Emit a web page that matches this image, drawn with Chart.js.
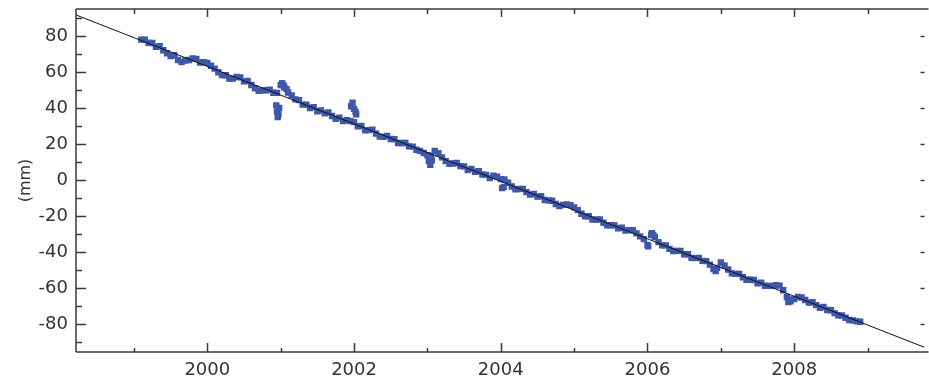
<!DOCTYPE html>
<html>
<head>
<meta charset="utf-8">
<script src="https://cdn.jsdelivr.net/npm/chart.js@4.4.1/dist/chart.umd.min.js"></script>
<style>
  html, body { margin: 0; padding: 0; background: #fff; }
  canvas { display: block; }
</style>
</head>
<body>
<canvas id="gpsChart" width="929" height="382"></canvas>
<script>
// ---- 1. DATA ---------------------------------------------------------
// epochs in decimal years, displacement in mm (values approximate)
const epochs = [
  1999.10, 1999.15, 1999.20, 1999.25, 1999.30, 1999.35, 1999.40, 1999.45, 1999.50,
  1999.55, 1999.60, 1999.65, 1999.70, 1999.75, 1999.80, 1999.85, 1999.90, 1999.95,
  2000.00, 2000.05, 2000.10, 2000.15, 2000.20, 2000.25, 2000.30, 2000.35, 2000.40, 2000.45,
  2000.50, 2000.55, 2000.60, 2000.65, 2000.70, 2000.75, 2000.80, 2000.85, 2000.90, 2000.95,
  2001.00, 2001.05, 2001.10, 2001.15, 2001.20, 2001.25, 2001.30, 2001.35, 2001.40, 2001.45,
  2001.50, 2001.55, 2001.60, 2001.65, 2001.70, 2001.75, 2001.80, 2001.85, 2001.90, 2001.95,
  2002.00, 2002.05, 2002.10, 2002.15, 2002.20, 2002.25, 2002.30, 2002.35, 2002.40, 2002.45,
  2002.50, 2002.55, 2002.60, 2002.65, 2002.70, 2002.75, 2002.80, 2002.85, 2002.90, 2002.95,
  2003.00, 2003.05, 2003.10, 2003.15, 2003.20, 2003.25, 2003.30, 2003.35, 2003.40, 2003.45,
  2003.50, 2003.55, 2003.60, 2003.65, 2003.70, 2003.75, 2003.80, 2003.85, 2003.90, 2003.95,
  2004.00, 2004.05, 2004.10, 2004.15, 2004.20, 2004.25, 2004.30, 2004.35, 2004.40, 2004.45,
  2004.50, 2004.55, 2004.60, 2004.65, 2004.70, 2004.75, 2004.80, 2004.85, 2004.90, 2004.95,
  2005.00, 2005.05, 2005.10, 2005.15, 2005.20, 2005.25, 2005.30, 2005.35, 2005.40, 2005.45,
  2005.50, 2005.55, 2005.60, 2005.65, 2005.70, 2005.75, 2005.80, 2005.85, 2005.90, 2005.95,
  2006.00, 2006.05, 2006.10, 2006.15, 2006.20, 2006.25, 2006.30, 2006.35, 2006.40, 2006.45,
  2006.50, 2006.55, 2006.60, 2006.65, 2006.70, 2006.75, 2006.80, 2006.85, 2006.90, 2006.95,
  2007.00, 2007.05, 2007.10, 2007.15, 2007.20, 2007.25, 2007.30, 2007.35, 2007.40, 2007.45,
  2007.50, 2007.55, 2007.60, 2007.65, 2007.70, 2007.75, 2007.80, 2007.85, 2007.90, 2007.95,
  2008.00, 2008.05, 2008.10, 2008.15, 2008.20, 2008.25, 2008.30, 2008.35, 2008.40, 2008.45,
  2008.50, 2008.55, 2008.60, 2008.65, 2008.70, 2008.75, 2008.80, 2008.85, 2008.90
];
const displacement = [
  78.0, 77.9, 76.2, 76.1, 74.0, 74.3, 72.1, 70.4, 68.9,
  69.3, 66.7, 65.5, 66.4, 66.7, 67.5, 67.3, 65.3, 65.5,
  65.1, 63.5, 61.9, 59.9, 58.3, 58.2, 56.3, 56.3, 57.3, 57.0,
  54.8, 55.0, 52.8, 51.0, 49.6, 49.8, 49.9, 50.2, 48.5, 48.4,
  52.7, 51.4, 48.6, 47.0, 44.8, 44.4, 41.9, 41.9, 40.0, 40.5,
  38.2, 38.6, 37.0, 37.6, 35.6, 34.0, 34.7, 32.7, 33.2, 32.8,
  32.2, 29.9, 30.0, 27.6, 27.7, 28.0, 25.8, 24.1, 24.0, 24.5,
  22.8, 22.7, 20.6, 20.6, 20.6, 18.7, 18.6, 16.8, 16.2, 15.0,
  13.8, 13.5, 16.2, 14.9, 12.6, 10.5, 9.0, 9.2, 9.5, 7.7,
  7.6, 5.6, 6.2, 4.6, 4.9, 3.1, 2.9, 1.1, 2.4, 1.9,
  0.5, 0.3, -1.5, -3.6, -5.1, -5.0, -4.9, -6.7, -8.1, -7.7,
  -9.2, -9.0, -11.1, -11.3, -11.5, -13.3, -14.5, -13.8, -13.5, -13.9,
  -15.2, -16.7, -18.7, -20.1, -20.1, -21.9, -22.0, -21.9, -23.7, -25.2,
  -25.1, -25.2, -26.8, -26.4, -28.0, -27.8, -27.9, -29.6, -31.3, -32.8,
  -36.1, -30.4, -31.7, -34.5, -36.3, -36.3, -38.2, -39.4, -39.3, -39.3,
  -41.2, -41.2, -43.2, -43.4, -43.2, -44.9, -45.0, -47.0, -49.5, -48.8,
  -45.8, -47.4, -49.7, -51.8, -52.1, -52.1, -54.0, -55.4, -55.4, -55.5,
  -57.4, -57.0, -58.7, -58.8, -58.8, -58.4, -58.6, -61.2, -65.0, -67.3,
  -66.1, -64.9, -65.2, -66.6, -68.1, -67.9, -69.5, -70.9, -70.5, -72.2,
  -72.3, -73.9, -75.1, -75.2, -76.5, -77.7, -77.9, -78.5, -78.7
];

// short excursions away from the trend (2001, 2002, 2003, ...)
const spikeEpochs = [
  2000.94, 2000.95, 2000.96, 2000.97, 2000.98, 2001.02, 2001.04, 2001.08,
  2001.96, 2001.98, 2002.00, 2002.02, 2002.03, 2003.02, 2003.04, 2003.06,
  2004.02, 2004.04, 2006.01, 2006.06, 2006.08, 2006.93, 2007.92, 2007.94
];
const spikeValues = [
  41.5, 38.0, 35.0, 36.5, 40.0, 53.8, 52.5, 50.5,
  41.0, 43.0, 39.5, 38.0, 36.5, 10.5, 8.5, 11.0,
  -4.5, -3.8, -36.8, -29.5, -30.5, -50.5, -67.8, -66.5
];

// straight fitted line, edge to edge
const trendEpochs = [1998.21, 2009.776];
const trendValues = [91.7, -92.9];

// axis ticks
const xMajorTicks = [2000, 2002, 2004, 2006, 2008];
const xMinorTicks = [1999, 2001, 2003, 2005, 2007, 2009];
const yMajorTicks = [-80, -60, -40, -20, 0, 20, 40, 60, 80];
const yMinorTicks = [-90, -70, -50, -30, -10, 10, 30, 50, 70, 90];

const toPoints = (xs, ys) => xs.map((x, i) => ({ x: x, y: ys[i] }));

// ---- 2. FRAME + INWARD TICKS ---------------------------------------
const framePlugin = {
  id: 'frame',
  afterDatasetsDraw(chart) {
    const { ctx, chartArea: a, scales: { x, y } } = chart;
    ctx.save();
    ctx.strokeStyle = '#3a3a3a';
    ctx.lineWidth = 1.5;
    ctx.beginPath();
    // box (right edge falls just outside the picture)
    ctx.moveTo(a.left, a.top); ctx.lineTo(a.right + 4, a.top);
    ctx.moveTo(a.left, a.top); ctx.lineTo(a.left, a.bottom);
    ctx.moveTo(a.left, a.bottom); ctx.lineTo(a.right + 4, a.bottom);

    xMajorTicks.forEach(v => {
      const px = Math.round(x.getPixelForValue(v)) + 0.5;
      ctx.moveTo(px, a.bottom); ctx.lineTo(px, a.bottom - 9);
      ctx.moveTo(px, a.top); ctx.lineTo(px, a.top + 8);
    });
    xMinorTicks.forEach(v => {
      const px = Math.round(x.getPixelForValue(v)) + 0.5;
      ctx.moveTo(px, a.bottom); ctx.lineTo(px, a.bottom - 4);
      ctx.moveTo(px, a.top); ctx.lineTo(px, a.top + 5);
    });
    yMajorTicks.forEach(v => {
      const py = Math.round(y.getPixelForValue(v)) + 0.5;
      ctx.moveTo(a.left, py); ctx.lineTo(a.left + 10, py);
      ctx.moveTo(a.right, py); ctx.lineTo(a.right - 4, py);
    });
    yMinorTicks.forEach(v => {
      const py = Math.round(y.getPixelForValue(v)) + 0.5;
      ctx.moveTo(a.left, py); ctx.lineTo(a.left + 6, py);
    });
    ctx.stroke();
    ctx.restore();
  }
};

// ---- 3. CHART --------------------------------------------------------
Chart.defaults.font.family = "'DejaVu Sans', sans-serif";
Chart.defaults.color = '#333';

const markerStyle = {
  pointStyle: 'rect',
  pointRadius: 4.5,
  backgroundColor: '#3d57aa',
  borderColor: '#3d57aa',
  borderWidth: 0
};

new Chart(document.getElementById('gpsChart'), {
  type: 'scatter',
  data: {
    datasets: [
      {
        label: 'trend',
        type: 'line',
        data: toPoints(trendEpochs, trendValues),
        borderColor: '#111',
        borderWidth: 1,
        pointRadius: 0,
        fill: false
      },
      Object.assign({ label: 'spikes', data: toPoints(spikeEpochs, spikeValues) }, markerStyle),
      Object.assign({ label: 'displacement', data: toPoints(epochs, displacement) }, markerStyle)
    ]
  },
  options: {
    responsive: false,
    animation: false,
    layout: { padding: { top: 9, right: 0, left: 0, bottom: 0 } },
    plugins: { legend: { display: false }, tooltip: { enabled: false } },
    scales: {
      x: {
        type: 'linear',
        min: trendEpochs[0],
        max: trendEpochs[1],
        grid: { display: false, drawTicks: false },
        border: { display: false },
        afterBuildTicks: s => { s.ticks = xMajorTicks.map(v => ({ value: v })); },
        afterFit: s => { s.height = 30; s.paddingLeft = 0; s.paddingRight = 0; },
        ticks: {
          font: { size: 18 },
          padding: 8,
          maxRotation: 0,
          autoSkip: false,
          callback: v => String(v)
        }
      },
      y: {
        min: -95.5,
        max: 95,
        grid: { display: false, drawTicks: false },
        border: { display: false },
        afterBuildTicks: s => { s.ticks = yMajorTicks.map(v => ({ value: v })); },
        afterFit: s => { s.width = 76; s.paddingTop = 0; s.paddingBottom = 0; },
        title: {
          display: true,
          text: '(mm)',
          font: { size: 16 },
          padding: { top: 16, bottom: 0 }
        },
        ticks: {
          font: { size: 18 },
          padding: 8,
          autoSkip: false,
          callback: v => String(v)
        }
      }
    }
  },
  plugins: [framePlugin]
});
</script>
</body>
</html>
